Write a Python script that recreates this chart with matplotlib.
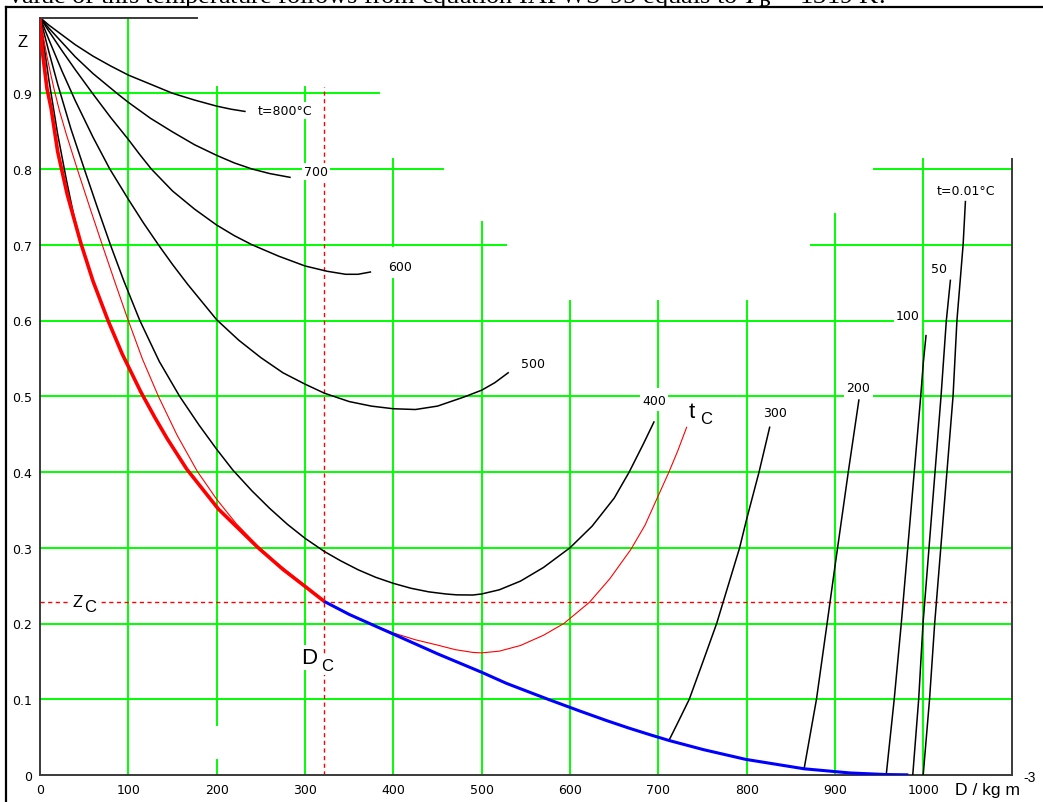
import matplotlib
matplotlib.use('Agg')
import matplotlib.pyplot as plt
from matplotlib.lines import Line2D

plt.rcParams['font.family'] = ['DejaVu Sans']
plt.rcParams['mathtext.fontset'] = 'stix'

NARROW = ['Liberation Sans Narrow', 'Liberation Sans', 'DejaVu Sans']

# ---- values: D in kg/m3, Z = p/(rho R T) ----
# saturated vapour (red, thick) and saturated liquid (blue)
sat_vap_D = [0, 0.6, 2.5, 7.9, 12.6, 20, 30.7, 46, 60, 77, 93, 114, 130, 144, 166, 185, 202, 225, 246, 275, 300, 322]
sat_vap_Z = [1.0, 0.985, 0.957, 0.906, 0.880, 0.823, 0.767, 0.703, 0.652, 0.600, 0.556, 0.506, 0.472, 0.444,
             0.404, 0.376, 0.351, 0.325, 0.301, 0.2715, 0.249, 0.229]
sat_liq_D = [322, 350, 400, 450, 500, 528, 575, 611, 641, 667, 691, 712, 751, 799, 865, 917, 958, 983]
sat_liq_Z = [0.229, 0.212, 0.186, 0.160, 0.1356, 0.121, 0.100, 0.0845, 0.072, 0.0618, 0.053, 0.0456,
             0.0335, 0.0206, 0.0082, 0.0027, 0.0006, 0.0002]

# supercritical isotherms
t800_D = [0, 10, 25, 40, 60, 80, 100, 125, 150, 175, 200, 216, 232]
t800_Z = [1.0, 0.990, 0.977, 0.964, 0.949, 0.936, 0.924, 0.912, 0.900, 0.891, 0.883, 0.879, 0.876]
t700_D = [0, 10, 25, 40, 60, 87, 100, 125, 150, 175, 200, 220, 240, 260, 283]
t700_Z = [1.0, 0.986, 0.967, 0.948, 0.926, 0.900, 0.888, 0.867, 0.849, 0.832, 0.818, 0.808, 0.800, 0.794, 0.789]
t600_D = [0, 10, 25, 40, 60, 80, 100, 113, 126, 150, 175, 200, 220, 240, 270, 300, 325, 346, 360, 374]
t600_Z = [1.0, 0.982, 0.956, 0.931, 0.899, 0.868, 0.839, 0.819, 0.800, 0.771, 0.747, 0.726, 0.712, 0.700,
          0.685, 0.672, 0.665, 0.661, 0.661, 0.664]
t500_D = [0, 10, 25, 40, 60, 79, 100, 117, 134, 150, 167, 200, 225, 250, 275, 300, 322, 350, 375, 400,
          425, 450, 480, 500, 515, 530]
t500_Z = [1.0, 0.971, 0.929, 0.890, 0.842, 0.800, 0.760, 0.729, 0.700, 0.674, 0.648, 0.601, 0.574, 0.551,
          0.531, 0.516, 0.504, 0.493, 0.487, 0.4835, 0.4825, 0.487, 0.499, 0.508, 0.518, 0.531]
t400_D = [0, 10, 20, 35, 51, 65, 80, 95, 113, 135, 158, 180, 200, 218, 240, 260, 280, 300, 322, 340, 360,
          380, 400, 420, 440, 460, 472, 490, 500, 520, 544, 570, 600, 625, 650, 667, 683, 695]
t400_Z = [1.0, 0.955, 0.912, 0.853, 0.797, 0.749, 0.699, 0.652, 0.600, 0.546, 0.500, 0.462, 0.430, 0.403,
          0.375, 0.352, 0.331, 0.3125, 0.295, 0.283, 0.271, 0.261, 0.253, 0.2465, 0.2418, 0.2389, 0.2378,
          0.2376, 0.239, 0.2445, 0.256, 0.274, 0.300, 0.3285, 0.3655, 0.400, 0.437, 0.466]
tc_D = [0, 4, 8, 12, 16, 22, 30, 43, 57, 71, 85, 99, 116, 134, 155, 178, 200, 222, 246, 265, 285, 300, 322,
        340, 360, 380, 400, 425, 450, 470, 490, 500, 520, 544, 570, 593, 622, 645, 669, 685, 700, 712, 722, 732]
tc_Z = [1.0, 0.973, 0.948, 0.926, 0.905, 0.877, 0.845, 0.797, 0.747, 0.698, 0.650, 0.603, 0.549, 0.500,
        0.449, 0.401, 0.364, 0.332, 0.303, 0.283, 0.264, 0.250, 0.229, 0.2185, 0.207, 0.1965, 0.1875,
        0.1785, 0.1715, 0.1655, 0.1618, 0.1612, 0.1635, 0.171, 0.1845, 0.200, 0.228, 0.259, 0.298, 0.330,
        0.369, 0.400, 0.428, 0.459]

# subcritical isotherms: vapour branches
t300v_D = [0, 10, 20, 30, 38, 46]
t300v_Z = [1.0, 0.918, 0.846, 0.785, 0.740, 0.703]
t200v_D = [0, 4, 7.9]
t200v_Z = [1.0, 0.955, 0.906]

# subcritical isotherms: liquid branches
t300l_D = [712, 722, 735, 750, 766, 779, 792, 800, 814, 826]
t300l_Z = [0.0456, 0.069, 0.100, 0.148, 0.200, 0.250, 0.300, 0.338, 0.400, 0.459]
t200l_D = [865, 879, 891, 900, 915, 927]
t200l_Z = [0.0082, 0.100, 0.200, 0.276, 0.400, 0.495]
t100l_D = [958, 967, 975, 997, 1000, 1003]
t100l_Z = [0.0006, 0.100, 0.200, 0.500, 0.545, 0.580]
t50l_D = [988, 994.7, 999.6, 1020, 1026, 1030.6]
t50l_Z = [0.0001, 0.100, 0.200, 0.500, 0.600, 0.653]
t001l_D = [999.8, 1007, 1012.8, 1033.6, 1038, 1045, 1047.6]
t001l_Z = [0.0, 0.100, 0.200, 0.500, 0.600, 0.700, 0.757]

D_crit = 322
Z_crit = 0.229

x_ticks = [0, 100, 200, 300, 400, 500, 600, 700, 800, 900, 1000]
x_labels = ['0', '100', '200', '300', '400', '500', '600', '700', '800', '900', '1000']
y_ticks = [0, 0.1, 0.2, 0.3, 0.4, 0.5, 0.6, 0.7, 0.8, 0.9]
y_labels = ['0', '0.1', '0.2', '0.3', '0.4', '0.5', '0.6', '0.7', '0.8', '0.9']

# ---- figure ----
fig = plt.figure(figsize=(10.43, 8.03), dpi=100)
ax = fig.add_axes([40 / 1043, 27 / 803, 971.7 / 1043, 757.5 / 803])
ax.set_xlim(0, 1100)
ax.set_ylim(0, 1)

green = '#00ff00'
# the grid in the original is drawn in pieces
vgrid = [(100, 0, 1.0), (200, 0, 0.02), (200, 0.066, 0.908), (300, 0, 0.908),
         (400, 0, 0.655), (400, 0.698, 0.813), (500, 0, 0.73), (600, 0, 0.626),
         (700, 0, 0.479), (700, 0.512, 0.626), (800, 0, 0.626), (900, 0, 0.74), (1000, 0, 0.813)]
hgrid = [(0.1, 0, 1100), (0.2, 0, 1100), (0.3, 0, 1100), (0.4, 0, 1100), (0.5, 0, 1100),
         (0.6, 0, 1100), (0.7, 0, 527), (0.7, 873, 1100), (0.8, 0, 456), (0.8, 944, 1100),
         (0.9, 0, 384)]
for x, y0, y1 in vgrid:
    ax.plot([x, x], [y0, y1], color=green, lw=1.4, zorder=1)
for y, x0, x1 in hgrid:
    ax.plot([x0, x1], [y, y], color=green, lw=1.4, zorder=1)

# critical point guides
ax.plot([0, 1100], [Z_crit, Z_crit], color='red', lw=1.0, dashes=(3, 2.5), zorder=2)
ax.plot([D_crit, D_crit], [0, 0.908], color='red', lw=1.0, dashes=(3, 2.5), zorder=2)

# isotherms
for d, z in [(t800_D, t800_Z), (t700_D, t700_Z), (t600_D, t600_Z), (t500_D, t500_Z),
             (t400_D, t400_Z), (t300v_D, t300v_Z), (t200v_D, t200v_Z),
             (t300l_D, t300l_Z), (t200l_D, t200l_Z), (t100l_D, t100l_Z),
             (t50l_D, t50l_Z), (t001l_D, t001l_Z)]:
    ax.plot(d, z, color='black', lw=1.1, zorder=3)
ax.plot(tc_D, tc_Z, color='red', lw=0.8, zorder=3)
ax.plot(sat_vap_D, sat_vap_Z, color='red', lw=2.6, zorder=4, solid_capstyle='butt')
ax.plot(sat_liq_D, sat_liq_Z, color='blue', lw=2.2, zorder=4, solid_capstyle='butt')

# frame pieces
ax.spines['top'].set_visible(False)
ax.spines['right'].set_visible(False)
for s in ['left', 'bottom']:
    ax.spines[s].set_color('#3a3a3a')
    ax.spines[s].set_linewidth(1.4)
ax.plot([0, 178], [1, 1], color='#3a3a3a', lw=1.4, clip_on=False, zorder=5)
ax.plot([1100, 1100], [0, 0.813], color='#3a3a3a', lw=1.4, clip_on=False, zorder=5)

ax.set_xticks(x_ticks)
ax.set_xticklabels(x_labels)
ax.set_yticks(y_ticks)
ax.set_yticklabels(y_labels)
ax.tick_params(length=0, labelsize=9, colors='black')
ax.tick_params(axis='x', pad=6)
ax.tick_params(axis='y', pad=6)

box = dict(facecolor='white', edgecolor='none', pad=1.5)
small = dict(fontsize=9, ha='left', va='center', zorder=6, bbox=box)
ax.text(247, 0.877, 't=800°C', **small)
ax.text(299, 0.797, '700', **small)
ax.text(394, 0.671, '600', **small)
ax.text(545, 0.543, '500', **small)
ax.text(682, 0.495, '400', **small)
ax.text(818, 0.479, '300', **small)
ax.text(913, 0.511, '200', **small)
ax.text(969, 0.606, '100', **small)
ax.text(1009, 0.669, '50', **small)
ax.text(1015, 0.772, 't=0.01°C', **small)

ax.text(734, 0.480, 't', fontsize=16, family=NARROW, ha='left', va='center', zorder=6)
ax.text(747, 0.470, 'C', fontsize=12, family=NARROW, ha='left', va='center', zorder=6)

ax.text(-20, 0.968, 'Z', fontsize=12, family=NARROW, ha='center', va='center', clip_on=False)
ax.text(42.4, 0.2297, 'Z', fontsize=12.5, family=NARROW, ha='center', va='center', zorder=6, bbox=box)
ax.text(57, 0.2231, 'C', fontsize=12, family=NARROW, ha='center', va='center', zorder=6, bbox=box)
ax.text(304.3, 0.1554, 'D', fontsize=16, family=NARROW, ha='center', va='center', zorder=6, bbox=box)
ax.text(325, 0.1446, 'C', fontsize=12, family=NARROW, ha='center', va='center', zorder=6, bbox=box)

ax.text(1036, -0.019, 'D / kg m', fontsize=12.6, family=NARROW, ha='left', va='center', clip_on=False)
ax.text(1113, -0.003, '-3', fontsize=10, family=NARROW, ha='left', va='center', clip_on=False)

# page frame and the clipped sentence above it
fig.add_artist(Line2D([5.5 / 1043, 5.5 / 1043], [0, 1 - 7.5 / 803], transform=fig.transFigure,
                      color='black', lw=1.6))
fig.add_artist(Line2D([5.5 / 1043, 1], [1 - 7.5 / 803, 1 - 7.5 / 803], transform=fig.transFigure,
                      color='black', lw=1.6))
fig.text(8 / 1043, 1 - 3 / 803,
         r'value of this temperature follows from equation IAPWS-95 equals to $T_\mathrm{B}$ = 1319 K.',
         fontsize=19, family='Liberation Serif', ha='left', va='baseline')

fig.savefig('out.png', dpi=100)
